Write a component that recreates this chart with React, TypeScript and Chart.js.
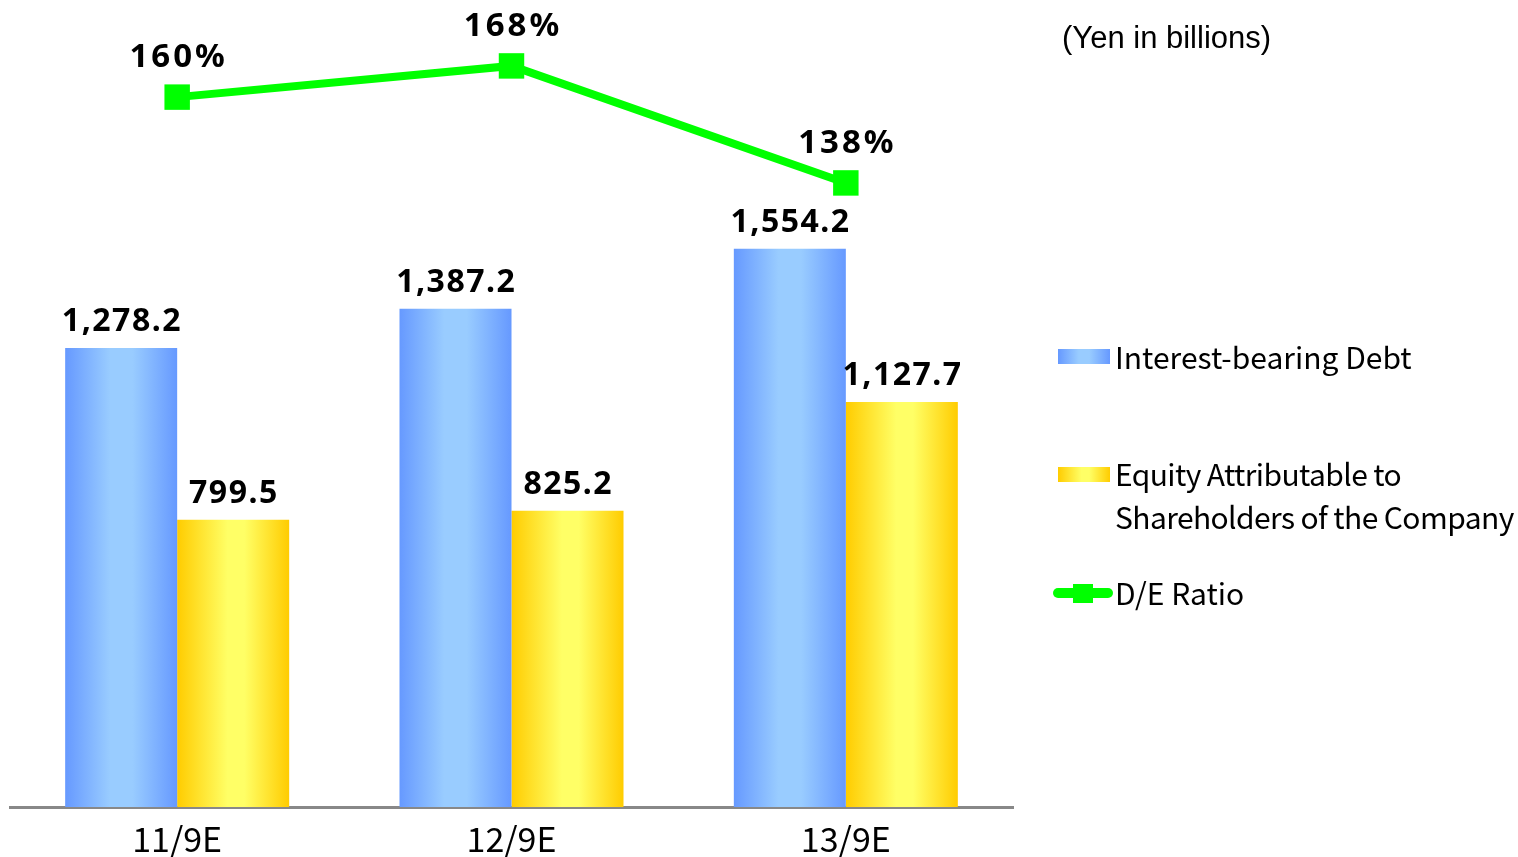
import React, { useEffect, useRef } from "react";
import { Chart, registerables } from "chart.js";

Chart.register(...registerables);

const CATEGORIES = ["11/9E", "12/9E", "13/9E"];
const DEBT = [1278.2, 1387.2, 1554.2];
const EQUITY = [799.5, 825.2, 1127.7];
const DE_RATIO = [160, 168, 138];

const SERIES_NAMES = [
  "Interest-bearing Debt",
  "Equity Attributable to\nShareholders of the Company",
  "D/E Ratio",
];
const UNIT_NOTE = "(Yen in billions)";

const CAT_PCT = 0.67;
const BLUE_STOPS: [number, string][] = [
  [0, "#6699ff"],
  [0.4, "#99ccff"],
  [0.6, "#99ccff"],
  [1, "#6699ff"],
];
const YELLOW_STOPS: [number, string][] = [
  [0, "#ffcc00"],
  [0.45, "#ffff66"],
  [0.6, "#ffff66"],
  [1, "#ffcc00"],
];
const GREEN = "#00ff00";

function barGradient(c: any, stops: [number, string][], side: number) {
  const chart = c.chart;
  const area = chart.chartArea;
  if (!area || c.dataIndex === undefined || !chart.scales.x) return stops[1][1];
  const center = chart.scales.x.getPixelForValue(c.dataIndex);
  const catW = (area.right - area.left) / CATEGORIES.length;
  const barW = (catW * CAT_PCT) / 2;
  const left = side === 0 ? center - barW : center;
  const g = chart.ctx.createLinearGradient(left, 0, left + barW, 0);
  stops.forEach(([o, col]) => g.addColorStop(o, col));
  return g;
}

const fmt = (v: number) =>
  v.toLocaleString("en-US", { minimumFractionDigits: 1, maximumFractionDigits: 1 });

const valueLabels = {
  id: "valueLabels",
  afterDatasetsDraw(chart: any) {
    const ctx = chart.ctx;
    ctx.save();
    ctx.fillStyle = "#000";
    ctx.textAlign = "center";
    ctx.textBaseline = "alphabetic";
    chart.data.datasets.forEach((ds: any, di: number) => {
      const meta = chart.getDatasetMeta(di);
      meta.data.forEach((el: any, i: number) => {
        const v = ds.data[i];
        if (ds.type === "line") {
          ctx.font = "bold 33px 'Noto Sans'";
          (ctx as any).letterSpacing = "3px";
          ctx.fillText(`${v}%`, el.x + 1.5, el.y - 30);
        } else {
          ctx.font = "bold 32px 'Noto Sans'";
          (ctx as any).letterSpacing = "1.5px";
          ctx.fillText(fmt(v), el.x + 0.75, el.y - 17);
        }
      });
    });
    ctx.restore();
  },
};

export default function App() {
  const ref = useRef<HTMLCanvasElement>(null);
  useEffect(() => {
    const chart = new Chart(ref.current as HTMLCanvasElement, {
      type: "bar",
      data: {
        labels: CATEGORIES,
        datasets: [
          {
            type: "line",
            label: SERIES_NAMES[2],
            data: DE_RATIO,
            yAxisID: "y1",
            borderColor: GREEN,
            backgroundColor: GREEN,
            borderWidth: 8,
            pointStyle: "rect",
            pointRadius: 18,
            pointBorderWidth: 0,
            pointBackgroundColor: GREEN,
            tension: 0,
            order: 0,
          } as any,
          {
            type: "bar",
            label: SERIES_NAMES[0],
            data: DEBT,
            yAxisID: "y",
            backgroundColor: (c: any) => barGradient(c, BLUE_STOPS, 0),
            borderWidth: 0,
            categoryPercentage: CAT_PCT,
            barPercentage: 1,
            order: 1,
          },
          {
            type: "bar",
            label: SERIES_NAMES[1],
            data: EQUITY,
            yAxisID: "y",
            backgroundColor: (c: any) => barGradient(c, YELLOW_STOPS, 1),
            borderWidth: 0,
            categoryPercentage: CAT_PCT,
            barPercentage: 1,
            order: 2,
          },
        ],
      },
      options: {
        responsive: false,
        animation: false,
        devicePixelRatio: 1,
        layout: { autoPadding: false, padding: { left: 10, right: 505, top: 0, bottom: 0 } },
        plugins: {
          legend: { display: false },
          tooltip: { enabled: false },
        },
        scales: {
          x: {
            grid: { display: false, drawTicks: false },
            border: { display: true, color: "#888888", width: 3 },
            ticks: {
              color: "#000",
              font: { family: "'Noto Sans CJK JP'", size: 34 },
              padding: 12,
            },
            afterFit: (s: any) => {
              s.height = 50;
            },
          },
          y: { display: false, min: 0, max: 2247 },
          y1: { display: false, min: -22, max: 184.9 },
        },
      } as any,
      plugins: [valueLabels],
    });
    return () => chart.destroy();
  }, []);

  const legendText: React.CSSProperties = {
    position: "absolute",
    left: 1115,
    fontFamily: "'Noto Sans CJK JP'",
    fontSize: 30,
    lineHeight: "43px",
    color: "#000",
    whiteSpace: "pre",
  };
  const swatch = (top: number, stops: [number, string][]): React.CSSProperties => ({
    position: "absolute",
    left: 1058,
    top,
    width: 52,
    height: 15,
    background: `linear-gradient(to right, ${stops
      .map(([o, c]) => `${c} ${o * 100}%`)
      .join(", ")})`,
  });

  return (
    <div
      style={{
        position: "fixed",
        left: 0,
        top: 0,
        width: 1518,
        height: 857,
        background: "#fff",
        overflow: "hidden",
      }}
    >
      <canvas
        ref={ref}
        width={1518}
        height={857}
        style={{ position: "absolute", left: 0, top: 0 }}
      />
      <div
        style={{
          position: "absolute",
          left: 1062,
          top: 20,
          fontFamily: "'Liberation Sans', Arial, sans-serif",
          fontSize: 31,
          lineHeight: "36px",
          color: "#000",
          whiteSpace: "nowrap",
        }}
      >
        {UNIT_NOTE}
      </div>
      <div style={swatch(349, BLUE_STOPS)} />
      <div style={{ ...legendText, top: 335 }}>{SERIES_NAMES[0]}</div>
      <div style={swatch(467, YELLOW_STOPS)} />
      <div style={{ ...legendText, top: 452, letterSpacing: "-0.6px" }}>{SERIES_NAMES[1]}</div>
      <div
        style={{
          position: "absolute",
          left: 1053,
          top: 588,
          width: 60,
          height: 10,
          borderRadius: 5,
          background: GREEN,
        }}
      />
      <div
        style={{
          position: "absolute",
          left: 1073,
          top: 584,
          width: 20,
          height: 19,
          background: GREEN,
        }}
      />
      <div style={{ ...legendText, top: 571 }}>{SERIES_NAMES[2]}</div>
    </div>
  );
}
